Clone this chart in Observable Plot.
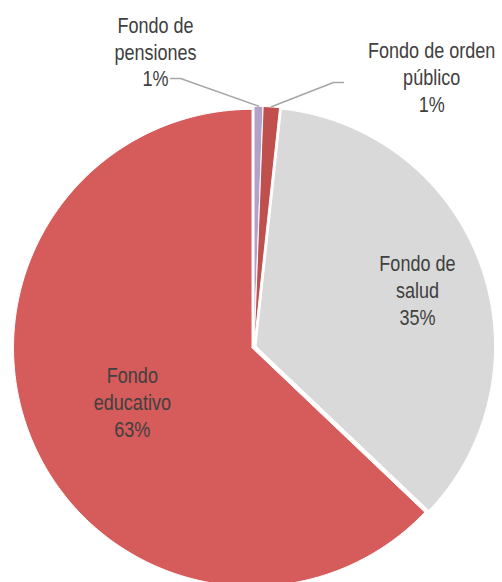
<!DOCTYPE html>
<html><head><meta charset="utf-8">
<script src="https://cdn.jsdelivr.net/npm/d3@7"></script>
<script src="https://cdn.jsdelivr.net/npm/@observablehq/plot@0.6"></script>
<style>body{margin:0;background:#fff}</style>
</head><body><div id="chart"></div>
<script>
// ---- data ----
const categories = ["Fondo de pensiones", "Fondo de orden público", "Fondo de salud", "Fondo educativo"];
const nameLabels = ["Fondo de\npensiones", "Fondo de orden\npúblico", "Fondo de\nsalud", "Fondo\neducativo"];
const shares = [0.6, 1.1, 35.4, 62.9];
const percentLabels = ["1%", "1%", "35%", "63%"];
const colors = ["#B3A2C7", "#C0504D", "#D9D9D9", "#D65B5B"];

// ---- layout ----
const W = 502, H = 582;
const cx = 253.5, cy = 346.5, R = 238.5;
const explode = 0.009;
const total = d3.sum(shares);

// slices (clockwise from 12 o'clock), in pie units: x = sin(a), y = cos(a)
let acc = 0;
const slices = shares.map((v, i) => {
  const a0 = acc / total * 2 * Math.PI;
  acc += v;
  const a1 = acc / total * 2 * Math.PI;
  return {i, name: categories[i], a0, a1, mid: (a0 + a1) / 2};
});

const polyPts = [];
for (const s of slices) {
  const ox = explode * Math.sin(s.mid), oy = explode * Math.cos(s.mid);
  const n = Math.max(4, Math.ceil((s.a1 - s.a0) / 0.01));
  polyPts.push({name: s.name, x: ox, y: oy});
  for (let k = 0; k <= n; k++) {
    const a = s.a0 + (s.a1 - s.a0) * k / n;
    polyPts.push({name: s.name, x: ox + Math.sin(a), y: oy + Math.cos(a)});
  }
  polyPts.push({name: s.name, x: ox, y: oy});
}

// label placement
const inside = {2: 0.73, 3: 0.555};
const outsideLabel = {0: {x: -0.413, y: 1.24, elbow: [-0.308, 1.126], end: [-0.35, 1.126]},
                      1: {x: 0.745, y: 1.134, elbow: [0.333, 1.109], end: [0.375, 1.109]}};
const labelData = slices.map(s => {
  const text = nameLabels[s.i] + "\n" + percentLabels[s.i];
  if (inside[s.i] != null) {
    return {text, x: inside[s.i] * Math.sin(s.mid), y: inside[s.i] * Math.cos(s.mid) - 0.01};
  }
  const o = outsideLabel[s.i];
  return {text, x: o.x, y: o.y};
});
const leaders = [];
for (const s of slices) {
  const o = outsideLabel[s.i];
  if (!o) continue;
  leaders.push({name: s.name, x: 1.01 * Math.sin(s.mid), y: 1.01 * Math.cos(s.mid)});
  leaders.push({name: s.name, x: o.elbow[0], y: o.elbow[1]});
  leaders.push({name: s.name, x: o.end[0], y: o.end[1]});
}

const font = "'Liberation Sans', Arial, sans-serif";

const chart = Plot.plot({
  width: W,
  height: H,
  margin: 0,
  style: {fontFamily: font, background: "#fff", overflow: "visible"},
  x: {domain: [-1, 1], range: [cx - R, cx + R], axis: null},
  y: {domain: [-1, 1], range: [cy + R, cy - R], axis: null},
  color: {domain: categories, range: colors},
  marks: [
    Plot.line(polyPts, {x: "x", y: "y", z: "name", fill: "name", stroke: "white", strokeWidth: 1, curve: "linear"}),
    Plot.line(leaders, {x: "x", y: "y", z: "name", stroke: "#A6A6A6", strokeWidth: 1.5}),
    Plot.text(labelData, {x: "x", y: "y", text: "text", fill: "#404040", fontSize: 22, lineHeight: 1.21, textAnchor: "middle", lineAnchor: "middle"})
  ]
});
// emulate a narrow (condensed) typeface: horizontal squeeze around each label's anchor
d3.select(chart).selectAll("g[aria-label='text'] text").each(function() {
  const t = this.getAttribute("transform") || "";
  this.setAttribute("transform", t + " scale(0.82,1)");
});
document.getElementById("chart").appendChild(chart);
</script>
</body></html>
